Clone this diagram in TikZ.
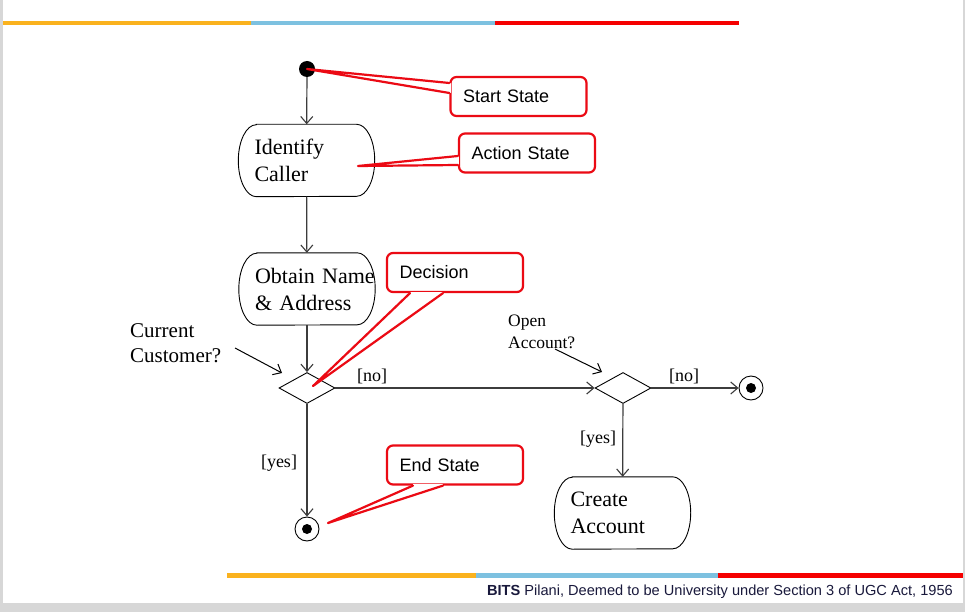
\documentclass[tikz,border=0pt]{standalone}
\usepackage{fontspec}
\setmainfont{Liberation Serif}
\newfontfamily\arialfont{Liberation Sans}
\usetikzlibrary{shapes.geometric,arrows.meta,calc}
\definecolor{bitsorange}{RGB}{250,178,30}
\definecolor{bitsblue}{RGB}{125,193,224}
\definecolor{bitsred}{RGB}{245,0,0}
\definecolor{callred}{RGB}{235,10,20}
\definecolor{linegray}{RGB}{60,60,60}
\definecolor{footnavy}{RGB}{25,25,60}
\definecolor{framegray}{RGB}{215,215,215}
\newcommand\stadiumborder[1]{%
  \draw[line width=0.9pt] ([xshift=18pt]#1.north west) -- ([xshift=-18pt]#1.north east)
    arc[start angle=90,end angle=-90,x radius=18pt,y radius=36pt]
    -- ([xshift=18pt]#1.south west)
    arc[start angle=270,end angle=90,x radius=18pt,y radius=36pt] -- cycle;}
\begin{document}
\begin{tikzpicture}[x=1pt,y=-1pt,
  action/.style={draw=none, minimum width=136pt, minimum height=72pt, text width=104pt,
    inner xsep=16pt, inner ysep=0pt, align=left, font=\fontsize{22}{27}\selectfont},
  decision/.style={diamond, draw=black, line width=0.9pt, minimum width=56pt, minimum height=31pt, inner sep=0pt},
  final/.style={circle, draw=black, line width=0.9pt, minimum size=24pt, inner sep=0pt,
    path picture={\fill[black] (path picture bounding box.center) circle (5pt);}},
  initial/.style={circle, fill=black, minimum size=16pt, inner sep=0pt},
  flow/.style={draw=linegray, line width=1.2pt, -{Straight Barb[length=7pt,width=12pt,line width=1.1pt]}},
  note/.style={draw=black, line width=1pt, -{Straight Barb[length=7pt,width=12pt,line width=1pt]}},
  guard/.style={font=\fontsize{18}{22}\selectfont, inner sep=0pt},
  question/.style={anchor=west, align=left, inner sep=0pt},
  callout/.style={draw=callred, line width=2.2pt, rounded corners=6pt, fill=white,
    minimum width=136pt, minimum height=39pt, text width=111pt, inner xsep=12.5pt, inner ysep=0pt,
    align=left, font=\arialfont\fontsize{18}{22}\selectfont},
  pointer/.style={draw=callred, line width=2.2pt, line join=round, line cap=round},
  gapcover/.style={draw=white, line width=3pt},
]
\useasboundingbox (0,0) rectangle (965,612);
% page frame
\fill[framegray] (0,0) rectangle (965,612);
\fill[white] (3,0) rectangle (963,603);
% top bar
\fill[bitsorange] (3,21.5) rectangle (251,25.5);
\fill[bitsblue] (251,21.5) rectangle (495,25.5);
\fill[bitsred] (495,21.5) rectangle (739,25.5);
% bottom bar
\fill[bitsorange] (227,573) rectangle (476,577.5);
\fill[bitsblue] (476,573) rectangle (718,577.5);
\fill[bitsred] (718,573) rectangle (963,577.5);
\node[anchor=east, font=\arialfont\fontsize{14.6}{17}\selectfont, text=footnavy, inner sep=0pt]
  (footer) at (953,592) {\textbf{BITS} Pilani, Deemed to be University under Section 3 of UGC Act, 1956};

% diagram
\node[initial] (start) at (307,69) {};
\node[action] (identify) at (306.5,160.5) {Identify\\Caller};
\stadiumborder{identify}
\node[action] (obtain) at (307,289) {\mbox{Obtain Name}\\\& Address};
\stadiumborder{obtain}
\node[decision] (d1) at (307,388) {};
\node[decision] (d2) at (623,388) {};
\node[final] (end1) at (307,529) {};
\node[final] (end2) at (751,388) {};
\node[action] (create) at (622.5,513) {Create\\Account};
\stadiumborder{create}

\draw[flow] (start) -- (identify);
\draw[flow] (identify) -- (obtain);
\draw[flow] (obtain) -- (d1);
\draw[flow] (d1) -- (d2);
\draw[flow] (d2) -- (end2);
\draw[flow] (d2) -- (create);
\draw[flow] (d1) -- (end1);

\node[guard] (no1) at (372,376) {[no]};
\node[guard] (no2) at (684,376) {[no]};
\node[guard] (yes2) at (598,439) {[yes]};
\node[guard] (yes1) at (279,463) {[yes]};

\node[question, font=\fontsize{21}{25}\selectfont] (q1) at (130,343.5) {Current\\Customer?};
\node[question, font=\fontsize{17.5}{22}\selectfont] (q2) at (508,332) {Open\\Account?};
\coordinate (q1s) at (235,348);
\coordinate (q1e) at (282,373);
\coordinate (q2s) at (555,349);
\coordinate (q2e) at (602,372);
\draw[note] (q1s) -- (q1e);
\draw[note] (q2s) -- (q2e);

% callouts
\node[callout] (cStart) at (518.5,96.5) {Start State};
\node[callout] (cAction) at (527,153) {Action State};
\node[callout] (cDecision) at (455,272.5) {Decision};
\node[callout] (cEnd) at (455,465) {End State};

\coordinate (sb1) at ($(cStart.west)+(0,-13.5)$);
\coordinate (sb2) at ($(cStart.west)+(0,-3.5)$);
\draw[gapcover] (sb1) -- (sb2);
\draw[pointer] (sb1) -- (start.center) -- (sb2);

\coordinate (ab1) at ($(cAction.west)+(0,3)$);
\coordinate (ab2) at ($(cAction.west)+(0,12)$);
\coordinate (atip) at (358,166);
\draw[gapcover] (ab1) -- (ab2);
\draw[pointer] (ab1) -- (atip) -- (ab2);

\coordinate (db1) at ($(cDecision.south)+(-45,0)$);
\coordinate (db2) at ($(cDecision.south)+(-12,0)$);
\coordinate (dtip) at (313,386);
\draw[gapcover] (db1) -- (db2);
\draw[pointer] (db1) -- (dtip) -- (db2);

\coordinate (eb1) at ($(cEnd.south)+(-42,0)$);
\coordinate (eb2) at ($(cEnd.south)+(-12,0)$);
\coordinate (etip) at (328,523);
\draw[gapcover] (eb1) -- (eb2);
\draw[pointer] (eb1) -- (etip) -- (eb2);
\end{tikzpicture}
\end{document}
